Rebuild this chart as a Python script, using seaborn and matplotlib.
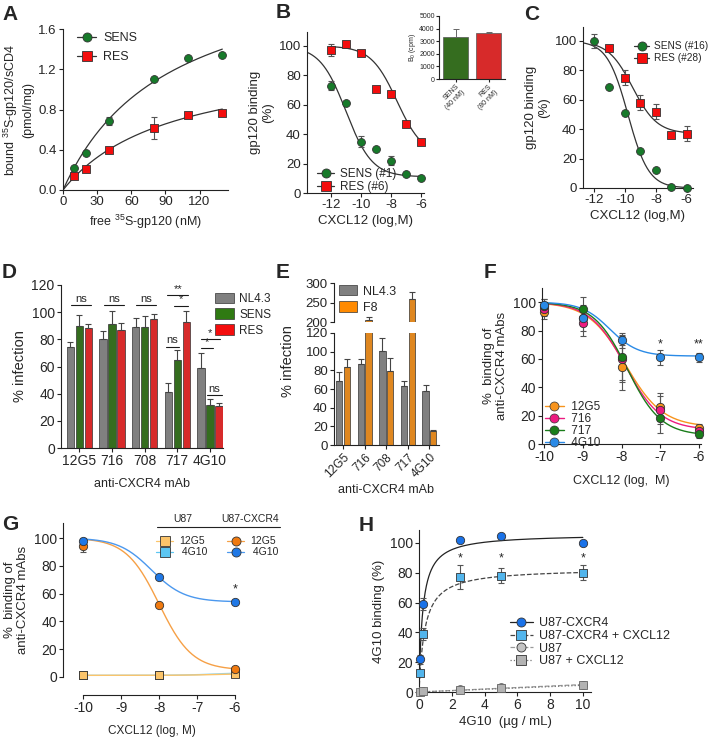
import numpy as np
import pandas as pd
import matplotlib
matplotlib.use("Agg")
import matplotlib.pyplot as plt
import seaborn as sns
from matplotlib.lines import Line2D
from matplotlib.patches import Patch

sns.set_theme(style="ticks")
plt.rcParams['font.family'] = ['Liberation Sans', 'DejaVu Sans']
plt.rcParams['mathtext.fontset'] = 'custom'
plt.rcParams['mathtext.rm'] = 'Liberation Sans'
plt.rcParams['mathtext.default'] = 'regular'
plt.rcParams['axes.unicode_minus'] = False

# --- data ---
# A: saturation binding
a_conc = [10, 20, 40, 80, 110, 140]
a_sens = [0.22, 0.37, 0.69, 1.10, 1.31, 1.34]
a_sens_sd = [0, 0, 0.04, 0, 0, 0]
a_res = [0.14, 0.21, 0.40, 0.62, 0.75, 0.77]
a_res_sd = [0, 0, 0, 0.11, 0, 0]
a_fit_sens = (2.33, 93.0)   # Bmax, Kd
a_fit_res = (1.35, 95.0)

# B: gp120 competition
b_log = [-12, -11, -10, -9, -8, -7, -6]
b_sens = [73, 61, 35, 30, 22, 13, 10]
b_sens_sd = [3, 0, 4, 0, 3, 0, 0]
b_res = [97, 101, 95, 71, 67, 47, 35]
b_res_sd = [4, 0, 0, 0, 0, 0, 0]
b_fit_sens = (100, 11, -11.0, 0.5)   # top, bottom, logIC50, hill
b_fit_res = (100, 25, -7.6, 0.5)
b0_groups = ['SENS\n(40 nM)', 'RES\n(80 nM)']
b0_cpm = [3300, 3650]
b0_sd = [700, 60]

# C
c_sens_log = [-12, -11, -10, -9, -8, -7, -6]
c_sens = [100, 69, 51, 25, 12, 0.5, 0]
c_sens_sd = [5, 0, 0, 0, 0, 0, 0]
c_res_log = [-11, -10, -9, -8, -7, -6]
c_res = [95, 75, 58, 52, 36, 37]
c_res_sd = [2, 5, 5, 5, 0, 5]
c_fit_sens = (100, 0, -9.8, 0.65)
c_fit_res = (100, 37, -9.5, 0.55)

# D
mabs = ['12G5', '716', '708', '717', '4G10']
d_nl43 = [74, 80, 89, 41, 59]
d_nl43_sd = [4, 6, 7, 7, 11]
d_sens = [90, 91, 89, 65, 32]
d_sens_sd = [8, 10, 8, 7, 4]
d_res = [88, 87, 95, 93, 31]
d_res_sd = [3, 5, 4, 8, 2]

# E
e_nl43 = [69, 87, 101, 63, 58]
e_nl43_sd = [9, 5, 14, 6, 6]
e_f8 = [84, 206, 79, 258, 15]
e_f8_sd = [8, 7, 14, 18, 1]

# F
f_log = [-10, -9, -8, -7, -6]
f_12g5 = [93, 89, 54, 26, 11]
f_716 = [95, 85, 60, 24, 9]
f_717 = [97, 95, 61, 18, 7]
f_4g10 = [98, 89, 73, 61, 61]
f_sd = [5, 9, 16, 10, 3]
f_4g10_sd = [4, 6, 5, 5, 3]
f_fits = {'12G5': (100, 12, -7.9, 0.9), '716': (100, 10, -7.9, 0.95),
          '717': (100, 6, -7.85, 1.0), '4G10': (100, 62, -8.3, 1.2)}

# G
g_log = [-10, -8, -6]
g_cx_12g5 = [94, 52, 6]
g_cx_12g5_sd = [4, 0, 0]
g_cx_4g10 = [98, 72, 54]
g_cx_4g10_sd = [2, 0, 0]
g_u87_12g5 = [1.2, 1.2, 2.4]
g_u87_4g10 = [1.2, 1.2, 3.0]
g_fits = {'cx12g5': (100, 5, -8.0, 1.0), 'cx4g10': (100, 54, -8.2, 1.0),
          'u12g5': (1.2, 2.4, -6.5, 1.0), 'u4g10': (1.2, 3.2, -6.5, 1.0)}

# H
h_conc = [0.05, 0.25, 2.5, 5, 10]
h_cx = [22, 59, 102, 105, 100]
h_cx_sd = [3, 4, 0, 0, 0]
h_cx_cxcl12 = [13, 39, 77, 78, 80]
h_cx_cxcl12_sd = [0, 4, 8, 5, 5]
h_u87 = [0, 0.5, 2, 3.5, 5]
h_u87_cxcl12 = [0, 0.5, 1.5, 2.5, 5]
h_fit_cx = (106, 0.22)
h_fit_cx_cxcl12 = (83, 0.35)
h_fit_u87 = (0.5, 0.45)  # linear slopes


def hyper(x, p):
    return p[0] * x / (p[1] + x)


def four_pl(x, p):
    top, bottom, ic50, hill = p
    return bottom + (top - bottom) / (1 + 10 ** ((x - ic50) * hill))


W, H = 714, 738
fig = plt.figure(figsize=(W / 100, H / 100), dpi=100)
FS = 9.5   # ticks / labels


def add_ax(x0, y0, x1, y1):
    return fig.add_axes([x0 / W, 1 - y1 / H, (x1 - x0) / W, (y1 - y0) / H])


def fxy(x, y):
    # figure-fraction point from pixel position
    return (x / W, 1 - y / H)


def style(ax, fs=FS):
    sns.despine(ax=ax)
    ax.tick_params(labelsize=fs, length=3, width=0.8, pad=1.5, color='#222')
    for s in ['left', 'bottom']:
        ax.spines[s].set_linewidth(0.8)
        ax.spines[s].set_color('#222')


def pts(ax, x, y, sd, color, marker, size=32, ec='#333'):
    if sd is not None:
        ax.errorbar(x, y, yerr=sd, fmt='none', ecolor='#555', elinewidth=0.8,
                    capsize=2.2, capthick=0.8, zorder=2, clip_on=False)
    sns.scatterplot(x=x, y=y, ax=ax, color=color, marker=marker, s=size,
                    edgecolor=ec, linewidth=0.6, zorder=3, clip_on=False, legend=False)


def curve(ax, xs, ys, color='#333', lw=0.9, ls='-'):
    sns.lineplot(x=xs, y=ys, ax=ax, color=color, lw=lw, linestyle=ls, zorder=1)


def handle(color, marker, lc='#333', ls='-', ms=6.5):
    return Line2D([0], [0], color=lc, lw=0.9, ls=ls, marker=marker, markersize=ms,
                  markerfacecolor=color, markeredgecolor='#333', markeredgewidth=0.6)


def letter(x, y, s):
    fig.text(x / W, 1 - y / H, s, fontsize=15, fontweight='bold', va='top', ha='left')


GREEN = '#177a2a'
RED = '#f40d0d'
GRAY = '#808080'
BARGREEN = '#2f7a12'

# ---------------- A ----------------
axA = add_ax(63, 29, 228, 190)
xs = np.linspace(0, 140, 200)
curve(axA, xs, hyper(xs, a_fit_sens))
curve(axA, xs, hyper(xs, a_fit_res))
pts(axA, a_conc, a_sens, a_sens_sd, GREEN, 'o')
pts(axA, a_conc, a_res, a_res_sd, RED, 's')
axA.set_xlim(0, 145)
axA.set_ylim(0, 1.6)
axA.set_xticks([0, 30, 60, 90, 120])
axA.set_yticks([0, 0.4, 0.8, 1.2, 1.6])
axA.set_yticklabels(['0.0', '0.4', '0.8', '1.2', '1.6'])
style(axA)
axA.set_xlabel('free $^{35}$S-gp120 (nM)', fontsize=9, labelpad=3)
axA.set_ylabel('bound $^{35}$S-gp120/sCD4\n(pmol/mg)', fontsize=9, labelpad=3)
axA.legend([handle(GREEN, 'o'), handle(RED, 's')], ['SENS', 'RES'], loc='upper left',
           bbox_to_anchor=fxy(66, 21), bbox_transform=fig.transFigure,
           frameon=False, fontsize=9, handlelength=1.5,
           handletextpad=0.6, labelspacing=0.55)

# ---------------- B ----------------
axB = add_ax(307, 32, 424, 193)
xs = np.linspace(-13.6, -6, 200)
curve(axB, xs, four_pl(xs, b_fit_sens))
xs2 = np.linspace(-12, -6, 200)
curve(axB, xs2, four_pl(xs2, b_fit_res))
pts(axB, b_log, b_sens, b_sens_sd, GREEN, 'o')
pts(axB, b_log, b_res, b_res_sd, RED, 's')
axB.set_xlim(-13.6, -5.8)
axB.set_ylim(0, 109.5)
axB.set_xticks([-12, -10, -8, -6])
axB.set_yticks([0, 20, 40, 60, 80, 100])
style(axB)
axB.set_xlabel('CXCL12 (log,M)', fontsize=FS, labelpad=3)
axB.set_ylabel('gp120 binding\n(%)', fontsize=FS, labelpad=3)
axB.legend([handle(GREEN, 'o'), handle(RED, 's')], ['SENS (#1)', 'RES (#6)'], loc='upper left',
           bbox_to_anchor=fxy(312, 163), bbox_transform=fig.transFigure,
           borderaxespad=0, frameon=False, fontsize=8.5, handlelength=1.5,
           handletextpad=0.5, labelspacing=0.1)

# inset
axI = add_ax(439, 16, 505, 79)
b0_df = pd.DataFrame({'group': b0_groups, 'cpm': b0_cpm})
sns.barplot(data=b0_df, x='group', y='cpm', hue='group', palette=[BARGREEN, RED],
            width=0.78, edgecolor='#555', linewidth=0.5, errorbar=None, legend=False, ax=axI)
centers = [p.get_x() + p.get_width() / 2 for p in axI.patches]
axI.errorbar(centers, b0_cpm, yerr=[[0, 0], b0_sd], fmt='none', ecolor='#666',
             elinewidth=0.7, capsize=2, capthick=0.7)
axI.set_ylim(0, 5000)
axI.set_xlim(-0.5, 1.5)
axI.set_yticks([0, 1000, 2000, 3000, 4000, 5000])
style(axI, fs=5)
axI.tick_params(length=2, pad=1)
axI.set_xlabel('')
axI.set_ylabel('B$_0$ (cpm)', fontsize=5, labelpad=1)
axI.set_xticks([0, 1])
axI.set_xticklabels(b0_groups, rotation=45, ha='right', rotation_mode='anchor', fontsize=5)

# ---------------- C ----------------
axC = add_ax(583, 27, 693, 188)
xs = np.linspace(-12.7, -6, 200)
curve(axC, xs, four_pl(xs, c_fit_sens))
xs2 = np.linspace(-12, -6, 200)
curve(axC, xs2, four_pl(xs2, c_fit_res))
pts(axC, c_res_log, c_res, c_res_sd, RED, 's')
pts(axC, c_sens_log, c_sens, c_sens_sd, GREEN, 'o')
axC.set_xlim(-12.7, -5.6)
axC.set_ylim(0, 109.5)
axC.set_xticks([-12, -10, -8, -6])
axC.set_yticks([0, 20, 40, 60, 80, 100])
style(axC)
axC.set_xlabel('CXCL12 (log,M)', fontsize=FS, labelpad=3)
axC.set_ylabel('gp120 binding\n(%)', fontsize=FS, labelpad=3)
axC.legend([handle(GREEN, 'o'), handle(RED, 's')], ['SENS (#16)', 'RES (#28)'], loc='upper left',
           bbox_to_anchor=fxy(630, 37), bbox_transform=fig.transFigure, borderaxespad=0,
           frameon=False, fontsize=7.3, handlelength=1.5,
           handletextpad=0.5, labelspacing=0.2)

# ---------------- D ----------------
axD = add_ax(61, 285, 223, 448)
d_df = pd.DataFrame({
    'mAb': mabs * 3,
    'virus': ['NL4.3'] * 5 + ['SENS'] * 5 + ['RES'] * 5,
    'val': d_nl43 + d_sens + d_res,
})
sns.barplot(data=d_df, x='mAb', y='val', hue='virus', palette=[GRAY, BARGREEN, RED],
            width=0.82, gap=0.18, edgecolor='#333', linewidth=0.5, errorbar=None,
            legend=False, ax=axD)
for cont, sd in zip(axD.containers, [d_nl43_sd, d_sens_sd, d_res_sd]):
    cx = [b.get_x() + b.get_width() / 2 for b in cont]
    cy = [b.get_height() for b in cont]
    axD.errorbar(cx, cy, yerr=[[0] * 5, sd], fmt='none', ecolor='#444', elinewidth=0.8,
                 capsize=2, capthick=0.8)
axD.set_xlim(-0.56, 4.4)
axD.set_ylim(0, 120)
axD.set_yticks(range(0, 121, 20))
style(axD, fs=10)
axD.set_ylabel('% infection', fontsize=10.5, labelpad=3)
axD.set_xlabel('anti-CXCR4 mAb', fontsize=9, labelpad=7)


def bracket(ax, i, a, b, y, txt):
    ax.plot([i + a, i + b], [y, y], color='k', lw=0.8)
    ax.text(i + (a + b) / 2, y + 0.8, txt, ha='center', va='bottom', fontsize=8)


for i in range(3):
    bracket(axD, i, -0.25, 0.36, 105.3, 'ns')
bracket(axD, 3, -0.3, 0.34, 112.7, '**')
bracket(axD, 3, -0.09, 0.34, 104.8, '*')
bracket(axD, 3, -0.36, 0.06, 74.7, 'ns')
bracket(axD, 4, -0.28, 0.3, 80, '*')
bracket(axD, 4, -0.28, 0.08, 73.5, '*')
bracket(axD, 4, -0.1, 0.36, 39, 'ns')
axD.legend([Patch(facecolor=c, edgecolor='#333', lw=0.5) for c in [GRAY, BARGREEN, RED]],
           ['NL4.3', 'SENS', 'RES'], loc='upper left', bbox_to_anchor=fxy(204, 282),
           bbox_transform=fig.transFigure, frameon=False, fontsize=8.5, handlelength=1.6,
           handleheight=1.0, handletextpad=0.5, labelspacing=0.3)

# ---------------- E ----------------
e_df = pd.DataFrame({
    'mAb': mabs * 2,
    'virus': ['NL4.3'] * 5 + ['F8'] * 5,
    'val': e_nl43 + e_f8,
})
ORANGE = '#ff8a00'
axE_hi = add_ax(334, 283, 439, 322)
axE = add_ax(334, 333, 439, 445)
for ax in (axE_hi, axE):
    sns.barplot(data=e_df, x='mAb', y='val', hue='virus', palette=[GRAY, ORANGE],
                width=0.72, gap=0.2, edgecolor='#333', linewidth=0.5, errorbar=None,
                legend=False, ax=ax)
    for cont, sd in zip(ax.containers, [e_nl43_sd, e_f8_sd]):
        cx = [b.get_x() + b.get_width() / 2 for b in cont]
        cy = [b.get_height() for b in cont]
        ax.errorbar(cx, cy, yerr=[[0] * 5, sd], fmt='none', ecolor='#444', elinewidth=0.8,
                    capsize=2, capthick=0.8)
    ax.set_xlim(-0.42, 4.44)
    style(ax, fs=9.5)
    ax.set_xlabel('')
    ax.set_ylabel('')
axE.set_ylim(0, 120)
axE.set_yticks(range(0, 121, 20))
axE_hi.set_ylim(200, 300)
axE_hi.set_yticks([200, 250, 300])
axE_hi.spines['bottom'].set_visible(False)
axE_hi.set_xticks([])
axE.set_xticks(range(5))
axE.set_xticklabels(mabs, rotation=45, ha='right', rotation_mode='anchor', fontsize=8.5)
axE.set_ylabel('% infection', fontsize=10.5)
axE.yaxis.set_label_coords(-0.37, 0.75)
axE.set_xlabel('anti-CXCR4 mAb', fontsize=9, labelpad=3)
axE_hi.legend([Patch(facecolor=c, edgecolor='#333', lw=0.5) for c in [GRAY, ORANGE]],
              ['NL4.3', 'F8'], loc='upper left', bbox_to_anchor=fxy(334, 280),
              bbox_transform=fig.transFigure, borderaxespad=0, frameon=False,
              fontsize=9, handlelength=1.4, handleheight=0.9, handletextpad=0.5,
              labelspacing=0.3)

# ---------------- F ----------------
axF = add_ax(542, 288, 701, 444)
f_cols = {'12G5': '#f7941d', '716': '#ec1b80', '717': '#1a7d1a', '4G10': '#2a8ae6'}
f_vals = {'12G5': (f_12g5, f_sd), '716': (f_716, f_sd), '717': (f_717, f_sd),
          '4G10': (f_4g10, f_4g10_sd)}
xs = np.linspace(-10, -6, 200)
for k in ['12G5', '716', '717', '4G10']:
    curve(axF, xs, four_pl(xs, f_fits[k]), color=f_cols[k], lw=1.0)
for k in ['12G5', '716', '717', '4G10']:
    y, sd = f_vals[k]
    pts(axF, f_log, y, sd, f_cols[k], 'o', size=36)
axF.text(-7, 66, '*', ha='center', va='bottom', fontsize=9)
axF.text(-6, 66, '**', ha='center', va='bottom', fontsize=9)
axF.set_xlim(-10.05, -5.95)
axF.set_ylim(0, 110)
axF.set_xticks([-10, -9, -8, -7, -6])
axF.set_yticks(range(0, 101, 20))
style(axF, fs=10)
axF.set_xlabel('CXCL12 (log,  M)', fontsize=9, labelpad=8)
axF.set_ylabel('%  binding of\nanti-CXCR4 mAbs', fontsize=9.5, labelpad=3)
axF.legend([Line2D([0], [0], color=f_cols[k], lw=1, marker='o', markersize=6.5,
                   markerfacecolor=f_cols[k], markeredgecolor='#333', markeredgewidth=0.5)
            for k in f_cols], [' 12G5', ' 716', ' 717', ' 4G10'], loc='upper left',
           bbox_to_anchor=fxy(540, 396), bbox_transform=fig.transFigure, borderaxespad=0,
           frameon=False, fontsize=8.5, handlelength=1.6,
           handletextpad=0.4, labelspacing=0.0)

# ---------------- G ----------------
axG = add_ax(63, 523, 240, 677)
G_OR = '#f07a10'
G_BL = '#1f78e6'
G_LOR = '#fbc46a'
G_LBL = '#5cc6f2'
xs = np.linspace(-10, -6, 200)
curve(axG, xs, four_pl(xs, g_fits['cx12g5']), color='#f6a046', lw=1.0)
curve(axG, xs, four_pl(xs, g_fits['cx4g10']), color='#4b98ee', lw=1.0)
curve(axG, xs, four_pl(xs, g_fits['u4g10']), color='#8fd6f5', lw=1.0)
curve(axG, xs, four_pl(xs, g_fits['u12g5']), color='#fbc46a', lw=1.0)
pts(axG, g_log, g_u87_4g10, None, G_LBL, 's', size=36)
pts(axG, g_log, g_u87_12g5, None, G_LOR, 's', size=36)
pts(axG, g_log, g_cx_12g5, g_cx_12g5_sd, G_OR, 'o', size=36)
pts(axG, g_log, g_cx_4g10, g_cx_4g10_sd, G_BL, 'o', size=36)
axG.text(-6, 59, '*', ha='center', va='bottom', fontsize=9)
axG.set_xlim(-10.53, -5.87)
axG.set_ylim(0, 110.8)
axG.set_xticks([-10, -9, -8, -7, -6])
axG.set_yticks(range(0, 101, 20))
style(axG, fs=10)
axG.spines['bottom'].set_position(('outward', 13))
axG.spines['bottom'].set_bounds(-10, -6)
axG.set_xlabel('CXCL12 (log, M)', fontsize=8.5, labelpad=7)
axG.set_ylabel('%  binding of\nanti-CXCR4 mAbs', fontsize=9.5, labelpad=3)
legG1 = axG.legend([handle(G_LOR, 's', lc=G_LOR, ms=6.5), handle(G_LBL, 's', lc=G_LBL, ms=6.5)],
                   ['12G5', ' 4G10'], loc='upper left',
                   bbox_to_anchor=fxy(152, 532), bbox_transform=fig.transFigure, borderaxespad=0,
                   frameon=False, fontsize=7.5, handlelength=1.6,
                   handletextpad=0.6, labelspacing=0.1)
axG.add_artist(legG1)
axG.legend([handle(G_OR, 'o', lc='#f6a046', ms=6.5), handle(G_BL, 'o', lc='#4b98ee', ms=6.5)],
           ['12G5', ' 4G10'], loc='upper left',
           bbox_to_anchor=fxy(223, 532), bbox_transform=fig.transFigure, borderaxespad=0,
           frameon=False, fontsize=7.5, handlelength=1.6,
           handletextpad=0.6, labelspacing=0.1)
fig.text(*fxy(183, 519), 'U87', fontsize=7.5, ha='center', va='center')
fig.text(*fxy(250, 519), 'U87-CXCR4', fontsize=7.5, ha='center', va='center')
fig.add_artist(Line2D([157 / W, 280 / W], [1 - 527 / H, 1 - 527 / H], color='#222', lw=0.8))

# ---------------- H ----------------
axH = add_ax(419, 530, 591, 692)
H_BL = '#1a72e8'
H_LBL = '#52b5ec'
H_GR = '#c4c4c4'
H_GRS = '#b3b3b3'
xs = np.linspace(0, 10, 400)
curve(axH, xs, hyper(xs, h_fit_cx), color='#222', lw=0.9)
curve(axH, xs, hyper(xs, h_fit_cx_cxcl12), color='#444', lw=0.9, ls='--')
curve(axH, xs, h_fit_u87[0] * xs, color='#999', lw=0.9, ls='--')
curve(axH, xs, h_fit_u87[1] * xs, color='#777', lw=0.9, ls=':')
pts(axH, h_conc, h_u87, None, H_GR, 'o', size=32, ec='#666')
pts(axH, h_conc, h_u87_cxcl12, None, H_GRS, 's', size=32, ec='#666')
pts(axH, h_conc, h_cx_cxcl12, h_cx_cxcl12_sd, H_LBL, 's', size=32)
pts(axH, h_conc, h_cx, h_cx_sd, H_BL, 'o', size=36)
for xv in [2.5, 5, 10]:
    axH.text(xv, 85.5, '*', ha='center', va='bottom', fontsize=9)
axH.set_xlim(0, 10.5)
axH.set_ylim(0, 108.7)
axH.set_xticks([0, 2, 4, 6, 8, 10])
axH.set_yticks(range(0, 101, 20))
style(axH, fs=10)
axH.set_xlabel('4G10  (µg / mL)', fontsize=9.5, labelpad=3)
axH.set_ylabel('4G10 binding (%)', fontsize=9.5, labelpad=3)
axH.legend([handle(H_BL, 'o', lc='#222'), handle(H_LBL, 's', lc='#444', ls='--'),
            handle(H_GR, 'o', lc='#999', ls='--'), handle(H_GRS, 's', lc='#777', ls=':')],
           ['U87-CXCR4', 'U87-CXCR4 + CXCL12', 'U87', 'U87 + CXCL12'], loc='upper left',
           bbox_to_anchor=fxy(499, 606), bbox_transform=fig.transFigure,
           frameon=False, fontsize=9, handlelength=1.8, handletextpad=0.5, labelspacing=0.05)

# panel letters
letter(2, 5, 'A')
letter(276, 3, 'B')
letter(524, 5, 'C')
letter(2, 263, 'D')
letter(276, 263, 'E')
letter(484, 263, 'F')
letter(2, 515, 'G')
letter(359, 516, 'H')

fig.savefig('out.png', dpi=100)
